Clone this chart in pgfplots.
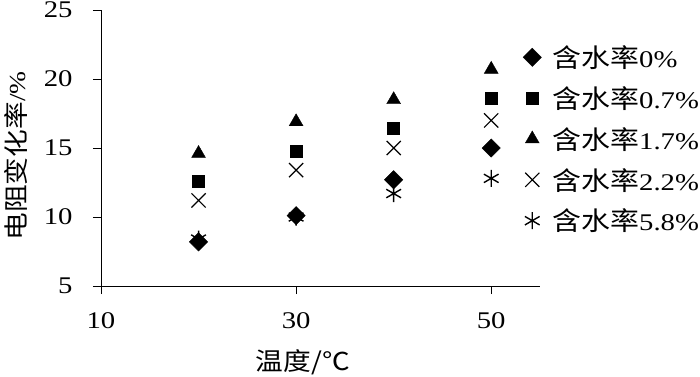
\documentclass[border=0pt]{standalone}
\usepackage{pgfplots}
\pgfplotsset{compat=1.18}
\usepackage{fontspec}
\setmainfont{Liberation Serif}[FakeStretch=1.2]
\newfontfamily\cjk{Noto Sans CJK SC}[Scale=1.08, FakeStretch=1.12]
\newcommand{\legtxt}[1]{\hspace*{9bp}{\cjk 含水率}#1\%}
\begin{document}
\begin{tikzpicture}[x=1bp,y=1bp]
\useasboundingbox (-101,-90) rectangle (599,286);
\begin{axis}[
  at={(0,0)}, anchor=origin,
  scale only axis, width=439bp, height=276bp,
  xmin=10, xmax=55, ymin=5, ymax=25,
  axis lines=left, axis line style={-, line width=0.9pt},
  xtick={10,30,50}, ytick={5,10,15,20,25},
  tick align=outside, major tick length=8bp,
  tick style={line width=0.9pt, black},
  /pgf/number format/assume math mode=true,
  ticklabel style={font=\fontsize{24}{28}\selectfont},
  yticklabel style={xshift=-17bp},
  xticklabel style={yshift=-15bp},
  xlabel={{\cjk 温度/℃}},
  ylabel={{\cjk 电阻变化率}/\%},
  xlabel style={at={(rel axis cs:0.46,-0.275)}, anchor=center},
  ylabel style={at={(rel axis cs:-0.1936,0.471)}, anchor=center},
  label style={font=\fontsize{23}{27}\selectfont},
  legend style={draw=none, fill=none, at={(rel axis cs:0.961,0.879)}, anchor=north west,
    font=\fontsize{24}{28}\selectfont, row sep=13.5bp, inner sep=0pt},
  legend cell align=left,
  clip=false,
]
\addplot[only marks, mark=square*, mark size=6.5bp, mark options={rotate=45, fill=black, draw=black}] coordinates {(20,8.2) (30,10.1) (40,12.7) (50,15.0)};
\addlegendentry{\legtxt{0}}
\addplot[only marks, mark=square*, mark size=6bp, mark options={fill=black, draw=black}] coordinates {(20,12.6) (30,14.8) (40,16.4) (50,18.6)};
\addlegendentry{\legtxt{0.7}}
\addplot[only marks, mark=triangle*, mark size=8bp, mark options={fill=black, draw=black}] coordinates {(20,14.6) (30,16.9) (40,18.5) (50,20.7)};
\addlegendentry{\legtxt{1.7}}
\addplot[only marks, mark=x, mark size=10bp, mark options={draw=black, line width=1.2pt}] coordinates {(20,11.2) (30,13.4) (40,15.0) (50,17.0)};
\addlegendentry{\legtxt{2.2}}
\addplot[only marks, mark=asterisk, mark size=8.5bp, mark options={draw=black, line width=1.4pt}] coordinates {(20,8.4) (30,10.0) (40,11.7) (50,12.8)};
\addlegendentry{\legtxt{5.8}}
\end{axis}
\end{tikzpicture}
\end{document}
